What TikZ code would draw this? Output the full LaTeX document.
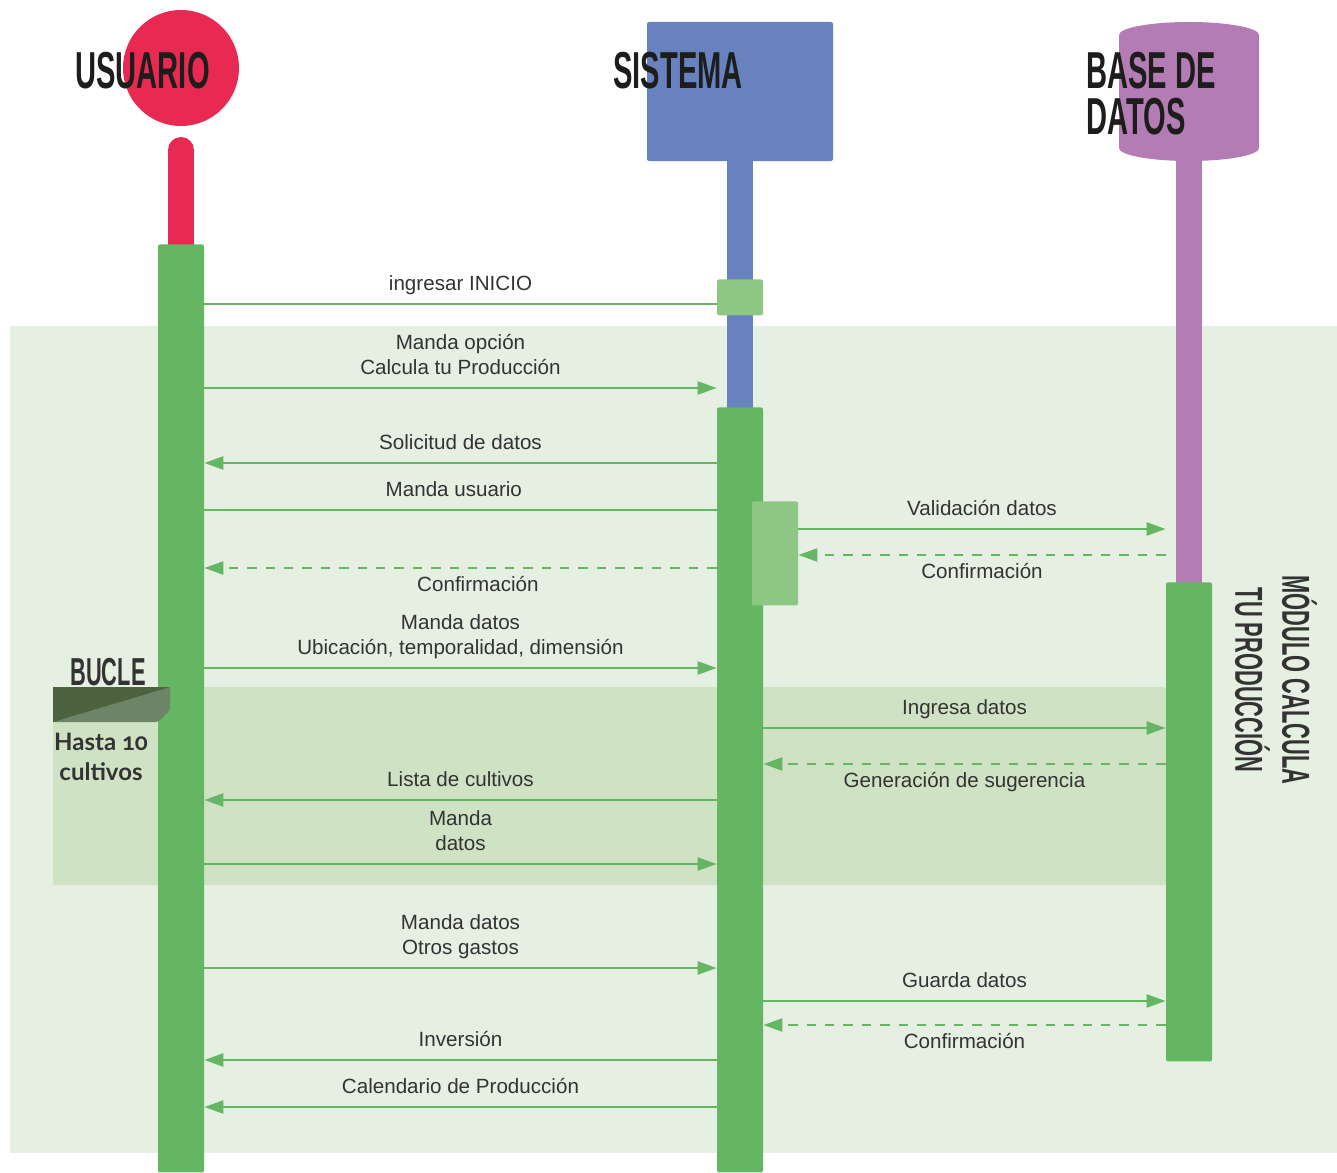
\documentclass[tikz,border=0pt]{standalone}
\usepackage{fontspec}
\setmainfont{Liberation Sans}
\newfontfamily\headfont{Liberation Sans}[FakeStretch=0.56]
\newfontfamily\loopfont{Lato}[Numbers=OldStyle]
\usetikzlibrary{arrows.meta}

\definecolor{usrred}{HTML}{E82A52}
\definecolor{sisblue}{HTML}{6881BF}
\definecolor{bdpurple}{HTML}{B47CB4}
\definecolor{bargreen}{HTML}{64B663}
\definecolor{actgreen}{HTML}{8EC684}
\definecolor{modbg}{HTML}{E5EFE2}
\definecolor{loopbg}{HTML}{CFE2C4}
\definecolor{tagdark}{HTML}{4E623F}
\definecolor{taglight}{HTML}{6E8466}
\definecolor{txt}{HTML}{333333}
\definecolor{headtxt}{HTML}{1D1D1B}

\begin{document}
\begin{tikzpicture}[
    x=0.5pt, y=-0.5pt,
    msg/.style={draw=bargreen, line width=1.2pt},
    call/.style={msg, -{Triangle[length=9.5pt,width=6.5pt]}},
    reply/.style={call, dash pattern=on 4.7pt off 4.5pt},
    bar/.style={rectangle, fill=bargreen, minimum width=23pt, inner sep=0pt, rounded corners=1pt, anchor=north},
    act/.style={rectangle, fill=actgreen, minimum width=23pt, inner sep=0pt, rounded corners=1pt, anchor=north},
    stem/.style={line width=13pt},
    head/.style={font=\headfont\bfseries\fontsize{26}{23}\selectfont, text=headtxt, inner sep=0pt, align=left},
    tagtext/.style={font=\headfont\bfseries\fontsize{19.5}{23.5}\selectfont, text=txt, inner sep=0pt, align=center},
    over/.style={above, font=\fontsize{10.3}{12.5}\selectfont, text=txt, align=center, inner sep=3.5pt, text depth=2.5pt},
    under/.style={below, font=\fontsize{10.3}{12.5}\selectfont, text=txt, align=center, inner sep=3.2pt, text height=8pt}
]
\useasboundingbox (0,0) rectangle (1337,1172);

% Regions
\fill[modbg] (10,326) rectangle (1337,1153);
\fill[loopbg, rounded corners=1pt] (53,687) rectangle (1166,885);

% Lifeline heads and stems
\draw[stem, usrred, line cap=round] (181,150) -- (181,250);
\draw[stem, sisblue] (740,150) -- (740,410);
\draw[stem, bdpurple] (1189,150) -- (1189,585);
\node[circle, fill=usrred, minimum size=58pt, inner sep=0pt] (usr) at (181,68) {};
\node[rectangle, fill=sisblue, minimum width=93pt, minimum height=69.5pt, inner sep=0pt, rounded corners=1pt] (sis) at (740,91.5) {};
\fill[bdpurple] (1119,35) arc[start angle=180, end angle=0, x radius=35pt, y radius=6.5pt]
    -- (1259,148) arc[start angle=0, end angle=-180, x radius=35pt, y radius=6.5pt] -- cycle;

% Activation bars
\node[bar, minimum height=464pt] (usrbar) at (181,244) {};
\node[bar, minimum height=382.5pt] (sisbar) at (740,407) {};
\node[bar, minimum height=239.5pt] (bdbar) at (1189,582) {};
\node[act, minimum height=18pt] (act1) at (740,279) {};
\node[act, minimum height=52pt] (act2) at (775,501) {};

% Loop tag
\fill[taglight, rounded corners=1pt] (53,687) -- (170,687) -- (170,710) -- (158,722) -- (53,722) -- cycle;
\fill[tagdark] (53,687) -- (170,687) -- (53,722) -- cycle;

% Titles
\node[head, anchor=base west] (usrlbl) at (75,89) {USUARIO};
\node[head, anchor=base west] (sislbl) at (613,89) {SISTEMA};
\node[head, anchor=north west] (bdlbl) at (1086,52) {BASE DE\\DATOS};
\node[tagtext, anchor=base west] (buclelbl) at (70,685) {BUCLE};
\node[font=\loopfont\bfseries\fontsize{12}{15}\selectfont, text=txt, align=center] (hasta) at (101,757) {Hasta 10\\cultivos};
\node[tagtext, rotate=-90] (modlbl) at (1276,680) {MÓDULO CALCULA\\TU PRODUCCIÓN};

% Message rows
\coordinate (m1) at (0,304);
\coordinate (m2) at (0,388);
\coordinate (m3) at (0,463);
\coordinate (m4) at (0,510);
\coordinate (m5) at (0,529);
\coordinate (m6) at (0,555);
\coordinate (m7) at (0,568);
\coordinate (m8) at (0,668);
\coordinate (m9) at (0,728);
\coordinate (m10) at (0,764);
\coordinate (m11) at (0,800);
\coordinate (m12) at (0,864);
\coordinate (m13) at (0,968);
\coordinate (m14) at (0,1001);
\coordinate (m15) at (0,1025);
\coordinate (m16) at (0,1060);
\coordinate (m17) at (0,1107);

% Messages
\draw[msg] (usrbar.east |- m1) -- node[over] {ingresar INICIO} (act1.west |- m1);
\draw[call] (usrbar.east |- m2) -- node[over] {Manda opción\\Calcula tu Producción} (sisbar.west |- m2);
\draw[call] (sisbar.west |- m3) -- node[over] {Solicitud de datos} (usrbar.east |- m3);
\draw[msg] (usrbar.east |- m4) -- node[over, pos=0.487] {Manda usuario} (sisbar.west |- m4);
\draw[call] (act2.east |- m5) -- node[over] {Validación datos} (bdbar.west |- m5);
\draw[reply] (bdbar.west |- m6) -- node[under] {Confirmación} (act2.east |- m6);
\draw[reply] (sisbar.west |- m7) -- node[under, pos=0.466] {Confirmación} (usrbar.east |- m7);
\draw[call] (usrbar.east |- m8) -- node[over] {Manda datos\\Ubicación, temporalidad, dimensión} (sisbar.west |- m8);
\draw[call] (sisbar.east |- m9) -- node[over] {Ingresa datos} (bdbar.west |- m9);
\draw[reply] (bdbar.west |- m10) -- node[under] {Generación de sugerencia} (sisbar.east |- m10);
\draw[call] (sisbar.west |- m11) -- node[over] {Lista de cultivos} (usrbar.east |- m11);
\draw[call] (usrbar.east |- m12) -- node[over] {Manda\\datos} (sisbar.west |- m12);
\draw[call] (usrbar.east |- m13) -- node[over] {Manda datos\\Otros gastos} (sisbar.west |- m13);
\draw[call] (sisbar.east |- m14) -- node[over] {Guarda datos} (bdbar.west |- m14);
\draw[reply] (bdbar.west |- m15) -- node[under] {Confirmación} (sisbar.east |- m15);
\draw[call] (sisbar.west |- m16) -- node[over] {Inversión} (usrbar.east |- m16);
\draw[call] (sisbar.west |- m17) -- node[over] {Calendario de Producción} (usrbar.east |- m17);

\end{tikzpicture}
\end{document}
